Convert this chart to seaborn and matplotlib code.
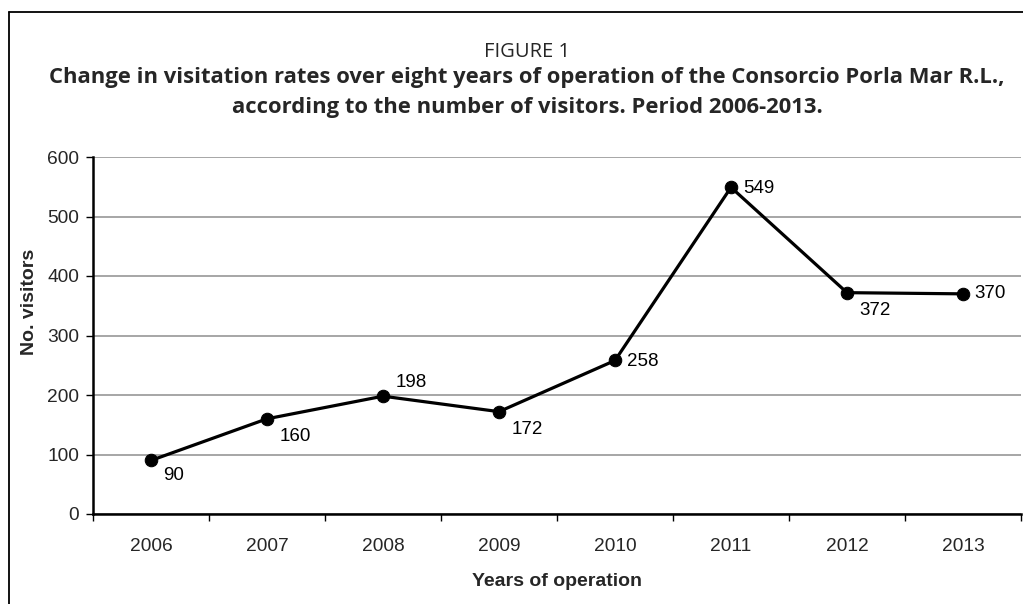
import matplotlib
matplotlib.use("Agg")
import matplotlib.pyplot as plt
from matplotlib.lines import Line2D
import seaborn as sns
import pandas as pd

# Data
years = ["2006", "2007", "2008", "2009", "2010", "2011", "2012", "2013"]
visitors = [90, 160, 198, 172, 258, 549, 372, 370]
# label offsets (points) relative to each marker
label_dx = [8.5, 9, 9, 9, 8.5, 8.5, 9, 8]
label_dy = [-11, -13, 9.5, -13, -1, -1, -13, 0]

df = pd.DataFrame({"pos": range(len(years)), "visitors": visitors})

sns.set_style("white")
plt.rcParams["font.family"] = ["Liberation Sans", "DejaVu Sans"]

W, H = 1023, 604
fig = plt.figure(figsize=(W / 100, H / 100), dpi=100)
ax = fig.add_axes([93 / W, 1 - 514 / H, (1021 - 93) / W, (514 - 157) / H])

sns.lineplot(data=df, x="pos", y="visitors", ax=ax, color="black",
             linewidth=2.3, marker="o", markersize=9,
             markeredgecolor="black", markerfacecolor="black")

for i, v in enumerate(visitors):
    ax.annotate(str(v), (i, v), xytext=(label_dx[i], label_dy[i]),
                textcoords="offset points", ha="left", va="center",
                fontsize=13.5, color="black")

ax.set_xlim(-0.5, len(years) - 0.5)
ax.set_ylim(0, 600)
ax.set_yticks(range(0, 601, 100))
ax.set_xticks(range(len(years)))
ax.set_xticklabels(years)
ax.set_xticks([i - 0.5 for i in range(len(years) + 1)], minor=True)
ax.tick_params(axis="x", which="major", length=0, pad=17, labelsize=13.8)
ax.tick_params(axis="x", which="minor", length=5, width=1, color="black",
               direction="out", bottom=True)
ax.tick_params(axis="y", length=5, width=1, color="black", direction="out",
               left=True, pad=5, labelsize=13.8)

ax.yaxis.grid(True, color="#a6a6a6", linewidth=1.4)
ax.set_axisbelow(True)
for s in ["top", "right"]:
    ax.spines[s].set_visible(False)
for s in ["left", "bottom"]:
    ax.spines[s].set_color("black")
    ax.spines[s].set_linewidth(1.8)

ax.set_xlabel("")
ax.set_ylabel("")
fig.text(557 / W, 1 - 582 / H, "Years of operation", ha="center", va="center",
         fontsize=14, fontweight="bold")
fig.text(30 / W, 1 - 302 / H, "No. visitors", ha="center", va="center",
         rotation=90, fontsize=14, fontweight="bold")

# Titles
fig.text(527 / W, 1 - 52 / H, "FIGURE 1", ha="center", va="center",
         fontsize=14.5, family="Open Sans")
fig.text(527 / W, 1 - 78 / H,
         "Change in visitation rates over eight years of operation of the Consorcio Porla Mar R.L.,",
         ha="center", va="center", fontsize=15.8, fontweight="bold", family="Open Sans")
fig.text(527 / W, 1 - 108 / H,
         "according to the number of visitors. Period 2006-2013.",
         ha="center", va="center", fontsize=15.8, fontweight="bold", family="Open Sans")

# Frame around the figure (left and top edges)
fig.add_artist(Line2D([9 / W, 9 / W], [0, 1 - 12 / H], transform=fig.transFigure,
                      color="black", linewidth=1.3))
fig.add_artist(Line2D([9 / W, 1], [1 - 12 / H, 1 - 12 / H], transform=fig.transFigure,
                      color="black", linewidth=1.3))

fig.savefig("out.png", dpi=100, facecolor="white")
